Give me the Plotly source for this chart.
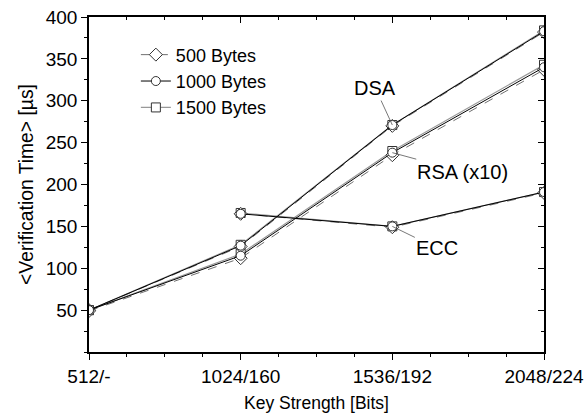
import plotly.graph_objects as go

# ---- data ----
key_bits = [512, 1024, 1536, 2048]
key_labels = ["512/-", "1024/160", "1536/192", "2048/224"]
y_ticks = [50, 100, 150, 200, 250, 300, 350, 400]

sizes = ["500 Bytes", "1000 Bytes", "1500 Bytes"]

dsa_500 = [50, 126, 270, 382]
dsa_1000 = [50, 127, 271, 383]
dsa_1500 = [50, 128, 271, 384]

rsa_500 = [49, 112, 235, 337]
rsa_1000 = [50, 115, 238, 340]
rsa_1500 = [50, 117, 240, 343]

ecc_500 = [None, 165, 149, 190]
ecc_1000 = [None, 165, 150, 191]
ecc_1500 = [None, 166, 150, 191]

series = {
    "500 Bytes": [dsa_500, rsa_500, ecc_500],
    "1000 Bytes": [dsa_1000, rsa_1000, ecc_1000],
    "1500 Bytes": [dsa_1500, rsa_1500, ecc_1500],
}

styles = {
    "500 Bytes": dict(color="#707070", dash="dash", width=1, symbol="diamond", msize=10, rank=1),
    "1000 Bytes": dict(color="#000000", dash="solid", width=1, symbol="circle", msize=9, rank=2),
    "1500 Bytes": dict(color="#999999", dash="solid", width=1.2, symbol="square", msize=9, rank=3),
}
draw_order = ["1500 Bytes", "500 Bytes", "1000 Bytes"]

FONT = "Liberation Sans, Arial, sans-serif"
FS = 20
TFS = 19

fig = go.Figure()
for name in draw_order:
    st = styles[name]
    for i, ys in enumerate(series[name]):
        fig.add_trace(go.Scatter(
            x=key_bits, y=ys, mode="lines+markers", name=name,
            legendgroup=name, showlegend=(i == 0), legendrank=st["rank"],
            line=dict(color=st["color"], dash=st["dash"], width=st["width"]),
            marker=dict(symbol=st["symbol"], size=st["msize"], color="white",
                        line=dict(color="#333333", width=1)),
        ))

# dummy trace to activate mirrored axes (top / right) with inside ticks
fig.add_trace(go.Scatter(x=[], y=[], xaxis="x2", yaxis="y2", showlegend=False,
                         hoverinfo="skip"))

xr = [512, 2048]
yr = [0, 400]

axis_common = dict(showline=True, linecolor="black", linewidth=1.5,
                   showgrid=False, zeroline=False, automargin=False)

fig.update_layout(
    width=587, height=418,
    margin=dict(l=89, r=43, t=17, b=66),
    paper_bgcolor="white", plot_bgcolor="white",
    font=dict(family=FONT, size=FS, color="black"),
    showlegend=True,
    legend=dict(x=0.103, y=0.942, xanchor="left", yanchor="top",
                bgcolor="rgba(0,0,0,0)", font=dict(size=18),
                tracegroupgap=0),
    xaxis=dict(range=xr, tickmode="array", tickvals=key_bits, ticktext=key_labels,
               ticks="outside", ticklen=6, tickwidth=1.2, tickcolor="black",
               minor=dict(dtick=128, tick0=512, ticks="outside", ticklen=3.5,
                          tickcolor="black", tickwidth=1),
               title=dict(text="Key Strength [Bits]", standoff=11, font=dict(size=17.5)),
               tickfont=dict(size=TFS), ticklabeloverflow="allow", **axis_common),
    yaxis=dict(range=yr, tickmode="array", tickvals=y_ticks,
               ticks="outside", ticklen=6, tickwidth=1.2, tickcolor="black",
               minor=dict(dtick=25, tick0=0, ticks="outside", ticklen=3.5,
                          tickcolor="black", tickwidth=1),
               title=dict(text="&lt;Verification Time&gt; [µs]", standoff=7, font=dict(size=19.3)),
               tickfont=dict(size=TFS), ticklabeloverflow="allow", **axis_common),
    xaxis2=dict(range=xr, overlaying="x", side="top", anchor="y2",
                tickmode="array", tickvals=key_bits, showticklabels=False,
                ticks="inside", ticklen=6, tickwidth=1.2, tickcolor="black",
                minor=dict(dtick=128, tick0=512, ticks="inside", ticklen=3.5,
                           tickcolor="black", tickwidth=1),
                **axis_common),
    yaxis2=dict(range=yr, overlaying="y", side="right", anchor="x2",
                tickmode="array", tickvals=y_ticks, showticklabels=False,
                ticks="inside", ticklen=6, tickwidth=1.2, tickcolor="black",
                minor=dict(dtick=25, tick0=0, ticks="inside", ticklen=3.5,
                           tickcolor="black", tickwidth=1),
                **axis_common),
)

ann_common = dict(showarrow=True, arrowhead=0, arrowwidth=0.8,
                  arrowcolor="#555555", font=dict(size=FS, family=FONT),
                  xref="x", yref="y")
fig.add_annotation(x=key_bits[2], y=dsa_1000[2], text="DSA", ax=-17, ay=-37, **ann_common)
fig.add_annotation(x=key_bits[2], y=rsa_1000[2], text="RSA (x10)", ax=70, ay=19, **ann_common)
fig.add_annotation(x=key_bits[2], y=ecc_1000[2], text="ECC", ax=45, ay=22, **ann_common)

# remove the default page margin so the 587x418 figure fills the window exactly
fig.write_html("out.html",
               config={"displayModeBar": False},
               post_script="document.body.style.margin='0';"
                           "document.body.style.overflow='hidden';")
